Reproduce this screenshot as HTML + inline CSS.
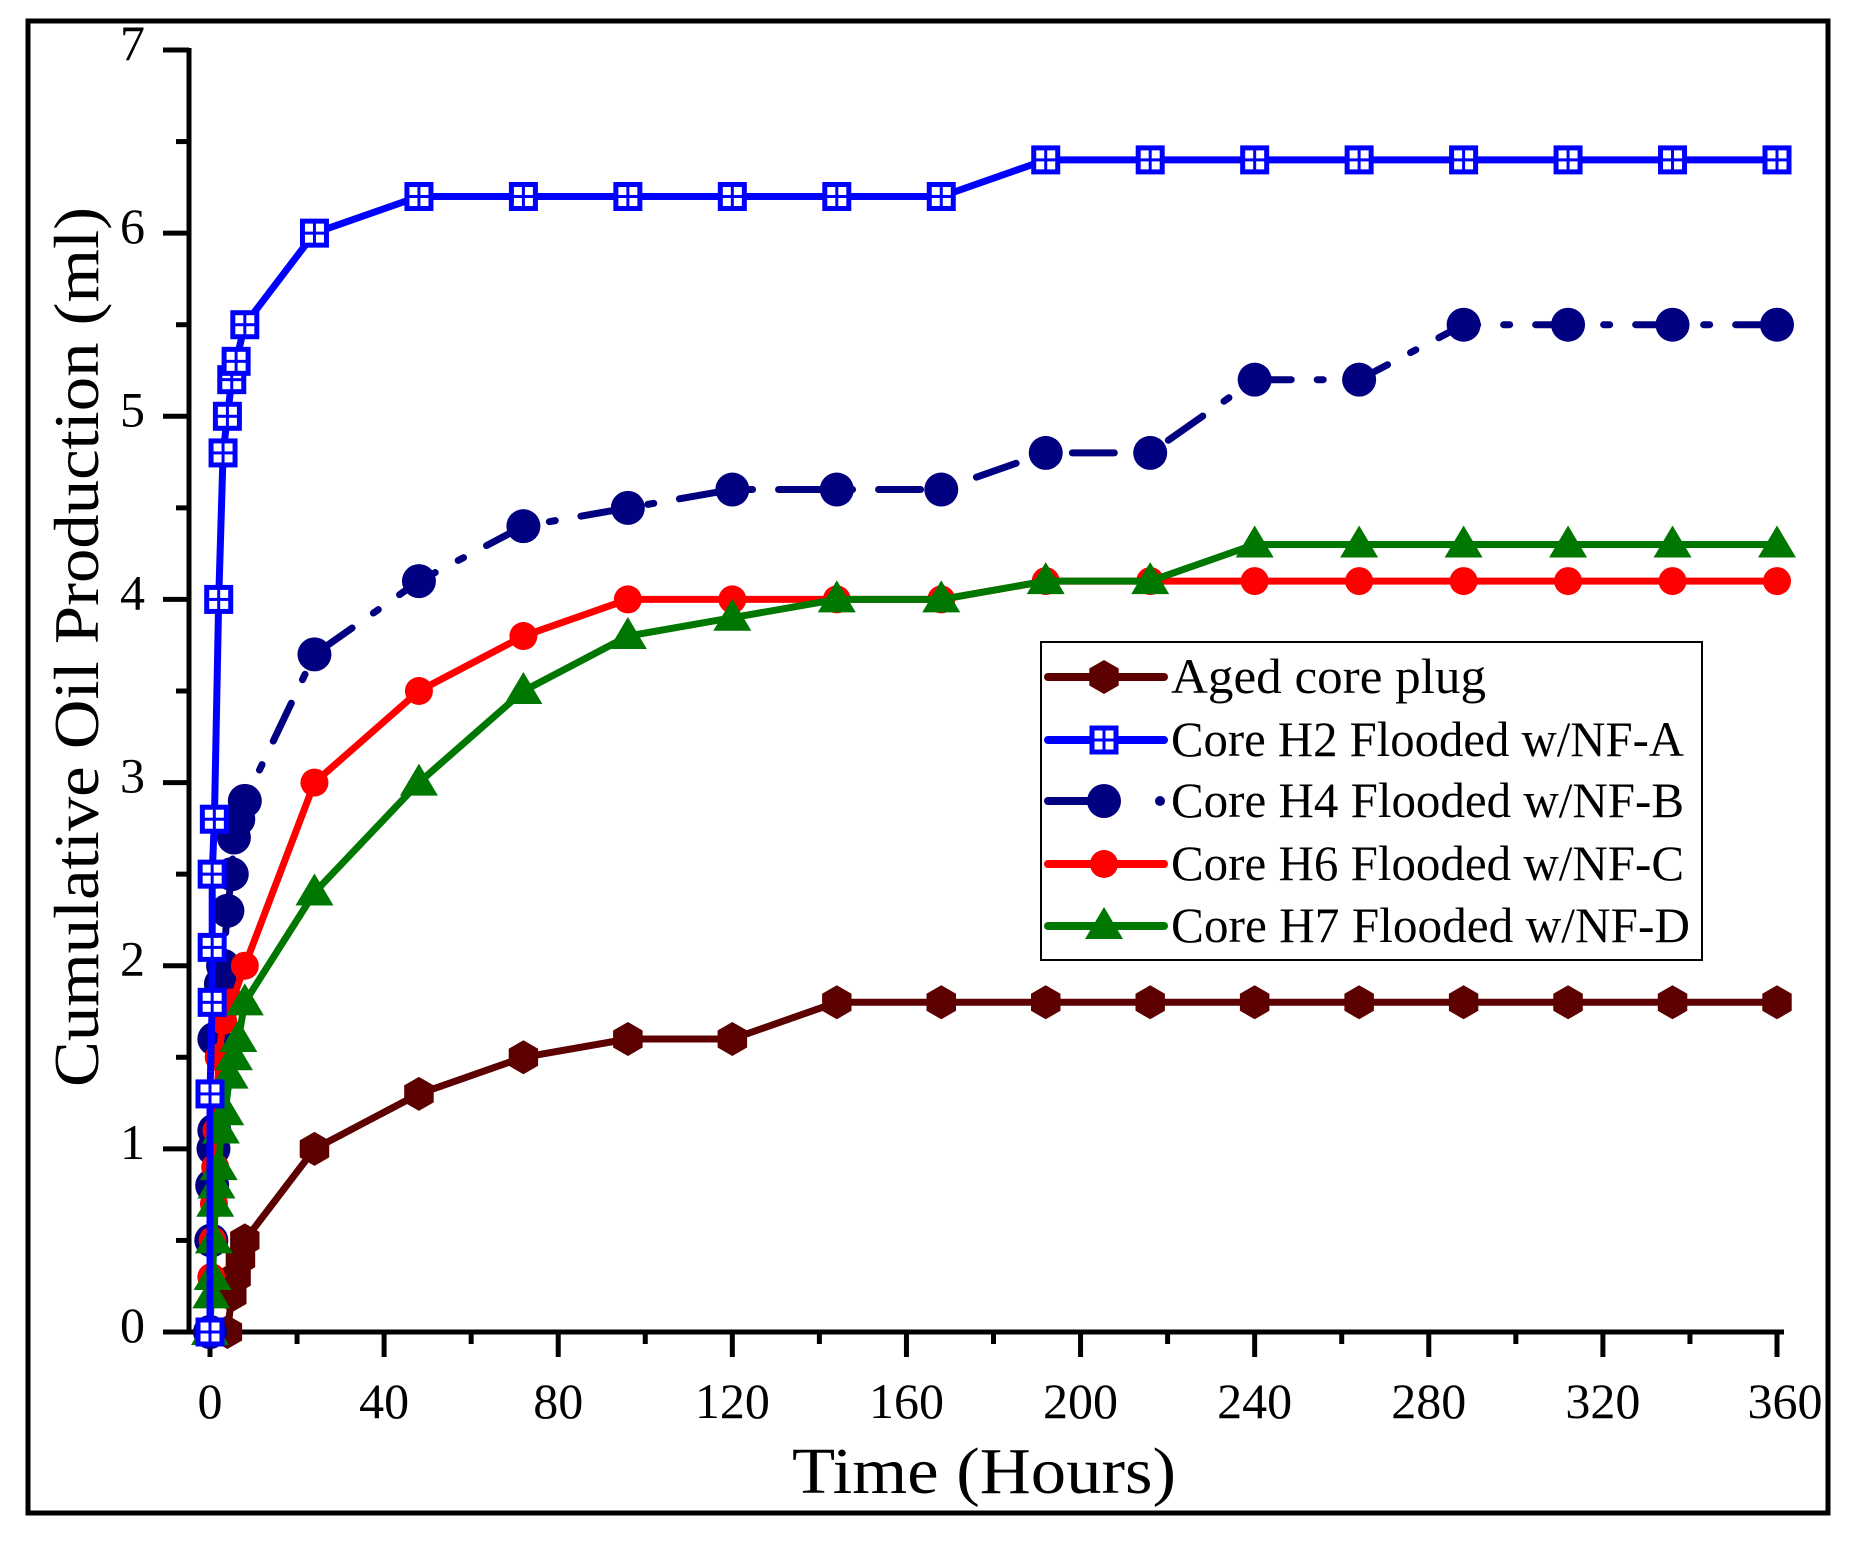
<!DOCTYPE html>
<html><head><meta charset="utf-8"><style>
html,body{margin:0;padding:0;background:#fff;}
svg{display:block;font-family:"Liberation Serif",serif;}
</style></head><body>
<svg id="chart" width="1853" height="1542" viewBox="0 0 1853 1542" xmlns="http://www.w3.org/2000/svg">
<rect x="0" y="0" width="1853" height="1542" fill="#fff"/>
<rect x="28" y="21" width="1800" height="1492" fill="none" stroke="#000" stroke-width="5"/>
<g id="axes"></g>
<g id="series"></g>
<g id="legend"></g>
<text x="984" y="1493" font-size="66" text-anchor="middle" textLength="384" lengthAdjust="spacingAndGlyphs">Time (Hours)</text>
<text transform="translate(98,647) rotate(-90)" font-size="64" text-anchor="middle" textLength="880" lengthAdjust="spacingAndGlyphs">Cumulative Oil Production (ml)</text>
</svg>
<script>
const xTicks = [0,40,80,120,160,200,240,280,320,360];
const yTicks = [0,1,2,3,4,5,6,7];
const agedT = [4,5,6,7,8,24,48,72,96,120,144,168,192,216,240,264,288,312,336,360];
const agedV = [0,0.2,0.3,0.4,0.5,1.0,1.3,1.5,1.6,1.6,1.8,1.8,1.8,1.8,1.8,1.8,1.8,1.8,1.8,1.8];
const h2T = [0,0,0.5,0.5,0.5,1,2,3,4,5,6,8,24,48,72,96,120,144,168,192,216,240,264,288,312,336,360];
const h2V = [0,1.3,1.8,2.1,2.5,2.8,4.0,4.8,5.0,5.2,5.3,5.5,6.0,6.2,6.2,6.2,6.2,6.2,6.2,6.4,6.4,6.4,6.4,6.4,6.4,6.4,6.4];
const h4T = [0,0.3,0.5,0.8,1,1,2.5,3,4,5,5.5,6.5,8,24,48,72,96,120,144,168,192,216,240,264,288,312,336,360];
const h4V = [0,0.5,0.8,1.0,1.1,1.6,1.9,2.0,2.3,2.5,2.7,2.8,2.9,3.7,4.1,4.4,4.5,4.6,4.6,4.6,4.8,4.8,5.2,5.2,5.5,5.5,5.5,5.5];
const h6T = [0,0.3,0.6,0.9,1.2,1.5,2,3,5,8,24,48,72,96,120,144,168,192,216,240,264,288,312,336,360];
const h6V = [0,0.3,0.5,0.7,0.9,1.1,1.5,1.7,1.8,2.0,3.0,3.5,3.8,4.0,4.0,4.0,4.0,4.1,4.1,4.1,4.1,4.1,4.1,4.1,4.1];
const h7T = [0,0.3,0.6,0.9,1.2,1.5,2,2.5,3.5,4.5,5.5,6.5,8,24,48,72,96,120,144,168,192,216,240,264,288,312,336,360];
const h7V = [0,0.2,0.3,0.5,0.7,0.8,0.9,1.1,1.2,1.4,1.5,1.6,1.8,2.4,3.0,3.5,3.8,3.9,4.0,4.0,4.1,4.1,4.3,4.3,4.3,4.3,4.3,4.3];
const legendLabels = ["Aged  core plug","Core H2 Flooded w/NF-A","Core H4 Flooded w/NF-B","Core H6 Flooded w/NF-C","Core H7 Flooded w/NF-D"];

const NS="http://www.w3.org/2000/svg";
const X0=210, XS=(1777-210)/360, Y0=1332, YS=(1332-50)/7;
function xs(h){return X0+h*XS;}
function ys(v){return Y0-v*YS;}
function mk(tag,attrs,parent){const e=document.createElementNS(NS,tag);for(const k in attrs)e.setAttribute(k,attrs[k]);parent.appendChild(e);return e;}

const axes=document.getElementById('axes');
let e=mk('line',{x1:189,y1:48,x2:189,y2:1334,stroke:'#000','stroke-width':5},axes);


e=mk('line',{x1:163,y1:1332,x2:1784,y2:1332,stroke:'#000','stroke-width':5},axes);


for(let v=0;v<=7.001;v+=0.5){
  const maj=Math.abs(v-Math.round(v))<1e-6;
  e=mk('line',{x1:maj?163:176,y1:ys(v),x2:189,y2:ys(v),stroke:'#000','stroke-width':5},axes);
  
  
}
yTicks.forEach(v=>{
  const t=mk('text',{x:145,y:ys(v)+10,'font-size':50,'text-anchor':'end'},axes);
  t.textContent=v;
  
  
});
for(let h=0;h<=360;h+=20){
  const maj=h%40===0;
  e=mk('line',{x1:xs(h),y1:1332,x2:xs(h),y2:maj?1357:1344,stroke:'#000','stroke-width':5},axes);
  
  
}
xTicks.forEach(h=>{
  const t=mk('text',{x:xs(h)+(h===360?8:0),y:1418,'font-size':50,'text-anchor':'middle'},axes);
  t.textContent=h;
  
  
});

function marker(type,cx,cy,color,parent){
  let m;
  if(type==='hex'){
    const r=17;let p=[];for(let i=0;i<6;i++){const a=Math.PI/6+i*Math.PI/3;p.push((cx+r*Math.cos(a)).toFixed(1)+','+(cy+r*Math.sin(a)).toFixed(1));}
    m=mk('polygon',{points:p.join(' '),fill:color},parent);
  }else if(type==='sq'){
    m=mk('g',{},parent);
    mk('rect',{x:cx-12,y:cy-12,width:24,height:24,fill:'#fff'},m);
    mk('rect',{x:cx-12,y:cy-1.5,width:24,height:3,fill:color},m);
    mk('rect',{x:cx-1.5,y:cy-12,width:3,height:24,fill:color},m);
    mk('rect',{x:cx-12,y:cy-12,width:24,height:24,fill:'none',stroke:color,'stroke-width':5},m);
  }else if(type==='circ'){
    m=mk('circle',{cx:cx,cy:cy,r:17,fill:color},parent);
  }else if(type==='circs'){
    m=mk('circle',{cx:cx,cy:cy,r:14,fill:color},parent);
  }else if(type==='tri'){
    m=mk('polygon',{points:`${cx},${cy-19} ${cx-19},${cy+13} ${cx+19},${cy+13}`,fill:color},parent);
  }
  return m;
}

const seriesG=document.getElementById('series');
const series=[
  {name:'series-aged',t:agedT,v:agedV,color:'#5c0000',m:'hex',dash:null},
  {name:'series-h4',t:h4T,v:h4V,color:'#000080',m:'circ',dash:'42,26,6,26'},
  {name:'series-h6',t:h6T,v:h6V,color:'#ff0000',m:'circs',dash:null},
  {name:'series-h7',t:h7T,v:h7V,color:'#007700',m:'tri',dash:null},
  {name:'series-h2',t:h2T,v:h2V,color:'#0000ff',m:'sq',dash:null}
];
series.forEach(s=>{
  const g=mk('g',{},seriesG);
  
  
  const pts=s.t.map((h,i)=>xs(h).toFixed(1)+','+ys(s.v[i]).toFixed(1)).join(' ');
  const a={points:pts,fill:'none',stroke:s.color,'stroke-width':7,'stroke-linejoin':'round','stroke-linecap':'round'};
  if(s.dash)a['stroke-dasharray']=s.dash;
  const pl=mk('polyline',a,g);
  
  
  s.t.forEach((h,i)=>{
    const m=marker(s.m,xs(h),ys(s.v[i]),s.color,g);
    
    
  });
});

const lg=document.getElementById('legend');
e=mk('rect',{x:1041,y:642,width:661,height:318,fill:'#fff',stroke:'#000','stroke-width':2},lg);


const legendRows=[677,740,801,864,926];
const legOrder=[{c:'#5c0000',m:'hex'},{c:'#0000ff',m:'sq'},{c:'#000080',m:'circ'},{c:'#ff0000',m:'circs'},{c:'#007700',m:'tri'}];
legendLabels.forEach((lab,i)=>{
  const y=legendRows[i],o=legOrder[i];
  const g=mk('g',{},lg);
  
  
  if(i===2){
    mk('line',{x1:1048,y1:y,x2:1110,y2:y,stroke:o.c,'stroke-width':8,'stroke-linecap':'round'},g);
    mk('circle',{cx:1160,cy:y,r:5,fill:o.c},g);
  }else{
    mk('line',{x1:1048,y1:y,x2:1164,y2:y,stroke:o.c,'stroke-width':8,'stroke-linecap':'round'},g);
  }
  marker(o.m,1104,y,o.c,g);
  const t=mk('text',{x:1171,y:y+16,'font-size':50,textLength:i===0?315:(i===4?519:513),lengthAdjust:'spacingAndGlyphs'},g);
  t.textContent=lab;
  
  
});
</script>
</body></html>
